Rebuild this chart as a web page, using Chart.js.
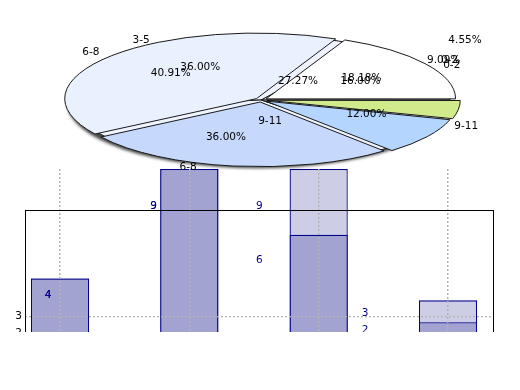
<!DOCTYPE html>
<html>
<head>
<meta charset="utf-8">
<script src="https://cdn.jsdelivr.net/npm/chart.js@4.4.1/dist/chart.umd.min.js"></script>
<style>
  html, body { margin: 0; padding: 0; background: #fff; }
  #stage { position: relative; width: 520px; height: 390px; overflow: hidden; }
  #barClip { position: absolute; left: 0; top: 0; width: 520px; height: 332px; overflow: hidden; }
  canvas { position: absolute; left: 0; top: 0; }
  /* axes frame of the lower panel */
  #frame { position: absolute; left: 25px; top: 210px; width: 467px; height: 200px;
           border: 1px solid #000; border-bottom: none; }
</style>
</head>
<body>
<div id="stage">
  <div id="barClip">
    <canvas id="bars" width="520" height="390"></canvas>
    <div id="frame"></div>
  </div>
  <canvas id="pieB" width="520" height="390"></canvas>
  <canvas id="pieA" width="520" height="390"></canvas>
</div>
<script>
// bar panel
const categories = ['0-2', '3-5', '6-8', '9-11'];
const darkValues = [4, 9, 6, 2];
const lightValues = [4, 9, 9, 3];
const yTickValues = [2, 3];

// pie panel (two pies drawn on top of each other)
const pieAValues = [4, 9, 6, 2, 1];
const pieANames = ['0-2', '6-8', '9-11', '', ''];
const pieBValues = [4, 9, 9, 3];
const pieBNames = ['0-2', '3-5', '6-8', '9-11'];

const FONT = '10.5px "DejaVu Sans"';
const PIE_CX = 261, PIE_CY = 100, PIE_R = 189;
const K = 0.342;          // vertical squash of the pie
const EXPLODE = 6;        // px each slice of pie A is pushed out

// some labels of pie A sit away from their slice: [distance, angle deg]
const nameMoveA = [null, null, [0.329, 278.4], null, null];
const pctMoveA = [null, null, [0.353, 56.3], [1.147, 32.6], [1.424, 40.7]];

const valueLabels = {
  id: 'valueLabels',
  afterDatasetsDraw(chart) {
    const { ctx, scales: { xl, yl } } = chart;
    ctx.save();
    ctx.font = FONT;
    ctx.fillStyle = '#00008b';
    ctx.textAlign = 'center';
    ctx.textBaseline = 'middle';
    [lightValues, darkValues].forEach(arr => arr.forEach((v, i) => {
      ctx.fillText(String(v), xl.getPixelForValue(i), yl.getPixelForValue(v));
    }));
    ctx.restore();
  }
};

const gridDash = { display: false, dash: [2, 2] };

new Chart(document.getElementById('bars'), {
  type: 'bar',
  data: {
    datasets: [
      {
        data: darkValues.map((v, i) => ({ x: i, y: v })),
        backgroundColor: '#a3a3d1', borderColor: '#00008b', borderWidth: 1.3,
        grouped: false, barPercentage: 0.45, categoryPercentage: 1
      },
      {
        data: lightValues.map((v, i) => ({ x: i, y: v })),
        backgroundColor: '#cdcde6', borderColor: '#00008b', borderWidth: 1.3,
        grouped: false, barPercentage: 0.45, categoryPercentage: 1
      }
    ]
  },
  options: {
    responsive: false,
    animation: false,
    events: [],
    layout: { padding: { top: 169, right: 27, bottom: 24, left: 0 } },
    plugins: { legend: { display: false }, tooltip: { enabled: false } },
    scales: {
      x: {
        type: 'linear', min: -0.2707, max: 3.348, offset: false,
        ticks: { display: false },
        border: gridDash,
        grid: { offset: false, drawTicks: false, color: '#b4b4b4', lineWidth: 1.5, z: 1 },
        afterBuildTicks: s => { s.ticks = categories.map((c, i) => ({ value: i })); },
        afterFit: s => { s.height = 0; }
      },
      y: { display: false, min: 0, max: 9 },
      y2: {
        position: 'left', min: 0, max: 12,
        afterBuildTicks: s => { s.ticks = yTickValues.map(v => ({ value: v })); },
        afterFit: s => { s.width = 25; },
        ticks: { color: '#000', font: { family: 'DejaVu Sans', size: 10.5 }, padding: 3 },
        grid: { drawTicks: false, color: '#b4b4b4', lineWidth: 1.3, z: 1 },
        border: gridDash
      },
      xl: { type: 'linear', axis: 'x', display: false, offset: false, min: -0.2176, max: 4.211 },
      yl: { type: 'linear', axis: 'y', display: false, min: 0, max: 11.13 }
    }
  },
  plugins: [valueLabels]
});

// squash the round pie into an ellipse, keep stroke widths even
const squash = {
  id: 'squash',
  beforeDatasetsDraw(chart, args, opts) {
    const ctx = chart.ctx;
    const arc = chart.getDatasetMeta(0).data[0];
    if (opts.shadow) {
      ctx.save();
      ctx.filter = 'blur(1.5px)';
      ctx.fillStyle = 'rgba(40,40,40,0.85)';
      ctx.beginPath();
      ctx.ellipse(arc.x - 3, PIE_CY + 3, arc.outerRadius + 2, (arc.outerRadius + 2) * K, 0, 0, Math.PI * 2);
      ctx.fill();
      ctx.restore();
    }
    ctx.save();
    const base = ctx.getTransform();
    ctx.translate(0, PIE_CY);
    ctx.scale(1, -K);
    ctx.translate(0, -arc.y);
    const stroke = CanvasRenderingContext2D.prototype.stroke;
    ctx.stroke = function () {
      this.save();
      this.setTransform(base);
      stroke.call(this);
      this.restore();
    };
  },
  afterDatasetsDraw(chart) {
    delete chart.ctx.stroke;
    chart.ctx.restore();
  }
};

function pieConfig(values, colors, explode, shadow, extra) {
  return {
    type: 'pie',
    data: {
      datasets: [{
        data: values,
        backgroundColor: colors,
        borderColor: '#1a1a1a',
        borderWidth: 1,
        offset: explode * 4
      }]
    },
    options: {
      responsive: false,
      animation: false,
      events: [],
      rotation: 90,
      radius: PIE_R,
      layout: { padding: { left: PIE_CX - PIE_R, right: 520 - PIE_CX - PIE_R, top: 0, bottom: 0 } },
      plugins: { legend: { display: false }, tooltip: { enabled: false }, squash: { shadow: shadow } }
    },
    plugins: [squash].concat(extra || [])
  };
}

const pieB = new Chart(document.getElementById('pieB'),
  pieConfig(pieBValues, ['#ffffff', '#eef3fe', '#eef3fe', '#c6d9fd'], 0, true));

function drawPieText(ctx, chart, names, values, explode, nameMove, pctMove) {
  const arcs = chart.getDatasetMeta(0).data;
  const total = values.reduce((a, b) => a + b, 0);
  arcs.forEach((arc, i) => {
    const R = arc.outerRadius;
    const m = (arc.startAngle + arc.endAngle) / 2;
    const ox = arc.x + Math.cos(m) * explode;
    const oy = arc.y + Math.sin(m) * explode;
    const place = (move, dist) => {
      if (move) {
        const t = move[1] * Math.PI / 180;
        return [arc.x + Math.cos(t) * move[0] * R, PIE_CY - K * Math.sin(t) * move[0] * R, 'center'];
      }
      const px = ox + Math.cos(m) * dist * R;
      const py = oy + Math.sin(m) * dist * R;
      return [px, PIE_CY - K * (py - arc.y), null];
    };
    if (names[i]) {
      const p = place(nameMove && nameMove[i], 1.1);
      ctx.textAlign = p[2] || (Math.cos(m) >= 0 ? 'left' : 'right');
      ctx.fillText(names[i], p[0], p[1]);
    }
    const q = place(pctMove && pctMove[i], 0.6);
    ctx.textAlign = 'center';
    ctx.fillText((100 * values[i] / total).toFixed(2) + '%', q[0], q[1]);
  });
}

const pieText = {
  id: 'pieText',
  afterDraw(chart) {
    const ctx = chart.ctx;
    ctx.save();
    ctx.font = FONT;
    ctx.fillStyle = '#000';
    ctx.textBaseline = 'middle';
    drawPieText(ctx, pieB, pieBNames, pieBValues, 0, null, null);
    drawPieText(ctx, chart, pieANames, pieAValues, EXPLODE, nameMoveA, pctMoveA);
    ctx.restore();
  }
};

new Chart(document.getElementById('pieA'),
  pieConfig(pieAValues, ['#ffffff', '#eaf1fe', '#c6d9fd', '#b4d5fe', '#d1ea8c'], EXPLODE, false, [pieText]));
</script>
</body>
</html>
